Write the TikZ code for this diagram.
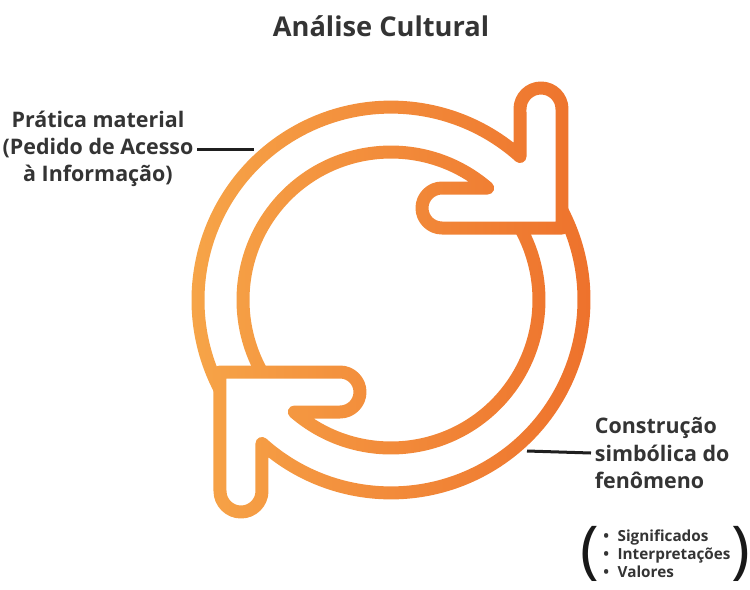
\documentclass[tikz,border=0pt]{standalone}
\usepackage{fontspec}
\setmainfont{Open Sans}
\usepackage{tikz}
\usetikzlibrary{fadings, positioning}
\definecolor{laranjaclaro}{RGB}{247,168,74}
\definecolor{laranjaescuro}{RGB}{237,110,42}
\definecolor{texto}{RGB}{52,52,52}
\tikzset{
  titulo/.style={font=\bfseries\fontsize{15.5}{18}\selectfont, text=texto, inner sep=0pt},
  rotulo/.style={font=\bfseries\fontsize{12.2}{15.4}\selectfont, text=texto, inner sep=2pt},
  lista/.style={font=\bfseries\fontsize{8.7}{10.2}\selectfont, text=texto, inner sep=0pt, align=left},
  parentese/.style={font=\fontsize{36}{36}\selectfont, text=black!90, inner sep=0pt},
  % Stili per il contorno del ciclo e per i collegamenti
  contorno/.style={transparent!0, line width=0.26cm, line join=round},
  conector/.style={line width=0.06cm, draw=black!88}
}

% Contorno delle due frecce (origine al centro del ciclo)
\begin{tikzfadingfrompicture}[name=ciclo, x=0.02cm, y=0.02cm]
  \path (-230,-230) rectangle (230,230);
  % Freccia superiore - arco a sinistra e punta in alto a destra
  \draw[contorno] (-171,-89.5) arc[start angle=207.6, end angle=48.06, radius=193]
    -- (129,191) arc[start angle=180, end angle=0, radius=21]
    -- (171,72) -- (51,72) arc[start angle=270, end angle=90, radius=20]
    -- (96.7,112) arc[start angle=49.2, end angle=209.1, radius=148];
  % Freccia inferiore - arco a destra e punta in basso a sinistra
  \draw[contorno] (171,89.5) arc[start angle=27.6, end angle=-131.94, radius=193]
    -- (-129,-191) arc[start angle=0, end angle=-180, radius=21]
    -- (-171,-72) -- (-51,-72) arc[start angle=90, end angle=-90, radius=20]
    -- (-96.7,-112) arc[start angle=229.2, end angle=389.1, radius=148];
\end{tikzfadingfrompicture}

\begin{document}
\begin{tikzpicture}[x=0.02cm, y=0.02cm]

\useasboundingbox (-391,-289) rectangle (359,300);

% Titolo
\node[titulo] (titulo) at (-10,274) {Análise Cultural};

% Ciclo con sfumatura arancione
\shade[path fading=ciclo, fit fading=false, left color=laranjaclaro, right color=laranjaescuro]
  (-230,-230) rectangle (230,230);

% Etichetta sinistra
\node[rotulo, align=center] (pratica) at (-293,151) {Prática material\\(Pedido de Acesso\\à Informação)};
\coordinate (fimpratica) at (-137,151);

% Etichetta destra
\node[rotulo, align=left, anchor=west] (construcao) at (200,-153) {Construção\\simbólica do\\fenômeno};
\coordinate (fimconstrucao) at (136,-151);

% Elenco tra parentesi
\node[lista] (valores) at (276,-254) {%
  \textbullet\hspace{0.55em}Significados\\
  \textbullet\hspace{0.55em}Interpretações\\
  \textbullet\hspace{0.55em}Valores};
\node[parentese, left=2pt of valores] (abre) {(};
\node[parentese, right=0pt of valores] (fecha) {)};

% Collegamenti
\draw[conector] (pratica.east) -- (fimpratica);
\draw[conector] (construcao.west) -- (fimconstrucao);

\end{tikzpicture}
\end{document}
